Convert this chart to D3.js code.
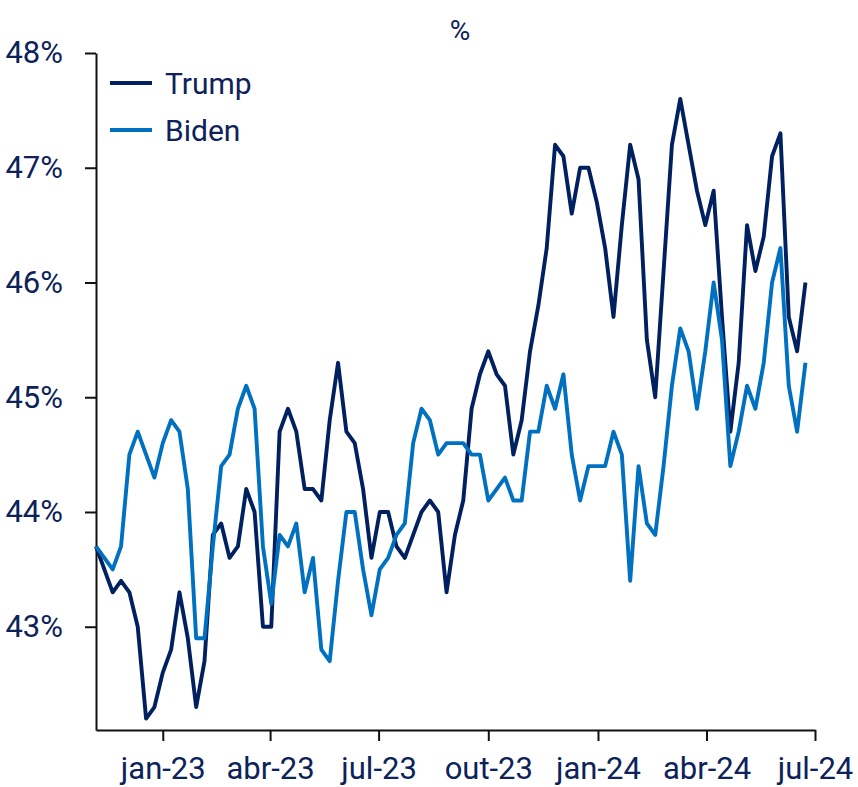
<!DOCTYPE html>
<meta charset="utf-8">
<script src="https://d3js.org/d3.v7.min.js"></script>
<style>
body { margin: 0; background: #fff; }
text { font-family: Roboto, "Noto Sans", sans-serif; fill: #0d2259; }
.axis path, .axis line { stroke: #111; stroke-width: 2px; }
.axis text { font-size: 31px; }
.legend text { font-size: 30px; }
</style>
<svg width="858" height="787"></svg>
<script>

// weekly readings, first week starting 6 Nov 2022
var firstWeek = "2022-11-06";

var trump = [43.7, 43.5, 43.3, 43.4, 43.3, 43.0, 42.2, 42.3, 42.6, 42.8,
             43.3, 42.9, 42.3, 42.7, 43.8, 43.9, 43.6, 43.7, 44.2, 44.0,
             43.0, 43.0, 44.7, 44.9, 44.7, 44.2, 44.2, 44.1, 44.8, 45.3,
             44.7, 44.6, 44.2, 43.6, 44.0, 44.0, 43.7, 43.6, 43.8, 44.0,
             44.1, 44.0, 43.3, 43.8, 44.1, 44.9, 45.2, 45.4, 45.2, 45.1,
             44.5, 44.8, 45.4, 45.8, 46.3, 47.2, 47.1, 46.6, 47.0, 47.0,
             46.7, 46.3, 45.7, 46.5, 47.2, 46.9, 45.5, 45.0, 46.1, 47.2,
             47.6, 47.2, 46.8, 46.5, 46.8, 45.7, 44.7, 45.3, 46.5, 46.1,
             46.4, 47.1, 47.3, 45.7, 45.4, 46.0];

var biden = [43.7, 43.6, 43.5, 43.7, 44.5, 44.7, 44.5, 44.3, 44.6, 44.8,
             44.7, 44.2, 42.9, 42.9, 43.7, 44.4, 44.5, 44.9, 45.1, 44.9,
             43.7, 43.2, 43.8, 43.7, 43.9, 43.3, 43.6, 42.8, 42.7, 43.4,
             44.0, 44.0, 43.5, 43.1, 43.5, 43.6, 43.8, 43.9, 44.6, 44.9,
             44.8, 44.5, 44.6, 44.6, 44.6, 44.5, 44.5, 44.1, 44.2, 44.3,
             44.1, 44.1, 44.7, 44.7, 45.1, 44.9, 45.2, 44.5, 44.1, 44.4,
             44.4, 44.4, 44.7, 44.5, 43.4, 44.4, 43.9, 43.8, 44.4, 45.1,
             45.6, 45.4, 44.9, 45.4, 46.0, 45.5, 44.4, 44.7, 45.1, 44.9,
             45.3, 46.0, 46.3, 45.1, 44.7, 45.3];

var yTicks = [43, 44, 45, 46, 47, 48];
var xTicks = ["2023-01-01", "2023-04-01", "2023-07-01", "2023-10-01", "2024-01-01", "2024-04-01", "2024-07-01"];
var xLabels = ["jan-23", "abr-23", "jul-23", "out-23", "jan-24", "abr-24", "jul-24"];

var series = [
  {name: "Trump", values: trump, color: "#002060"},
  {name: "Biden", values: biden, color: "#0070c0"}
];

var parse = d3.timeParse("%Y-%m-%d");
var start = parse(firstWeek);
var weeks = d3.range(trump.length).map(function(i) { return d3.timeWeek.offset(start, i); });

var svg = d3.select("svg");
var plot = {left: 96, right: 815, top: 53, bottom: 730};

var x = d3.scaleTime()
    .domain([start, parse("2024-07-01")])
    .range([plot.left, plot.right]);
var y = d3.scaleLinear()
    .domain([42.1, 48])
    .range([plot.bottom, plot.top]);

// subtitle
svg.append("text")
    .attr("x", 460)
    .attr("y", 40)
    .attr("text-anchor", "middle")
    .style("font-size", "28px")
    .text("%");

// axes
svg.append("g")
    .attr("class", "axis")
    .attr("transform", "translate(0," + plot.bottom + ")")
    .call(d3.axisBottom(x)
      .tickValues(xTicks.map(parse))
      .tickSize(11)
      .tickSizeOuter(0)
      .tickPadding(16)
      .tickFormat(function(d, i) { return xLabels[i]; }));

svg.append("g")
    .attr("class", "axis")
    .attr("transform", "translate(" + plot.left + ",0)")
    .call(d3.axisLeft(y)
      .tickValues(yTicks)
      .tickSize(11)
      .tickSizeOuter(0)
      .tickPadding(22)
      .tickFormat(function(d) { return d + "%"; }));

svg.selectAll(".axis .domain").attr("fill", "none");

// lines
var line = d3.line()
    .x(function(d, i) { return x(weeks[i]); })
    .y(function(d) { return y(d); });

svg.selectAll(".series")
    .data(series)
    .enter().append("path")
      .attr("class", "series")
      .attr("fill", "none")
      .attr("stroke", function(d) { return d.color; })
      .attr("stroke-width", 3.9)
      .attr("stroke-linejoin", "round")
      .attr("d", function(d) { return line(d.values); });

// legend
var legend = svg.append("g")
    .attr("class", "legend")
    .selectAll("g")
    .data(series)
    .enter().append("g")
      .attr("transform", function(d, i) { return "translate(110," + (83 + i * 47) + ")"; });

legend.append("line")
    .attr("x1", 0).attr("x2", 42)
    .attr("stroke", function(d) { return d.color; })
    .attr("stroke-width", 3.9);

legend.append("text")
    .attr("x", 55)
    .attr("dy", "0.36em")
    .text(function(d) { return d.name; });

</script>
